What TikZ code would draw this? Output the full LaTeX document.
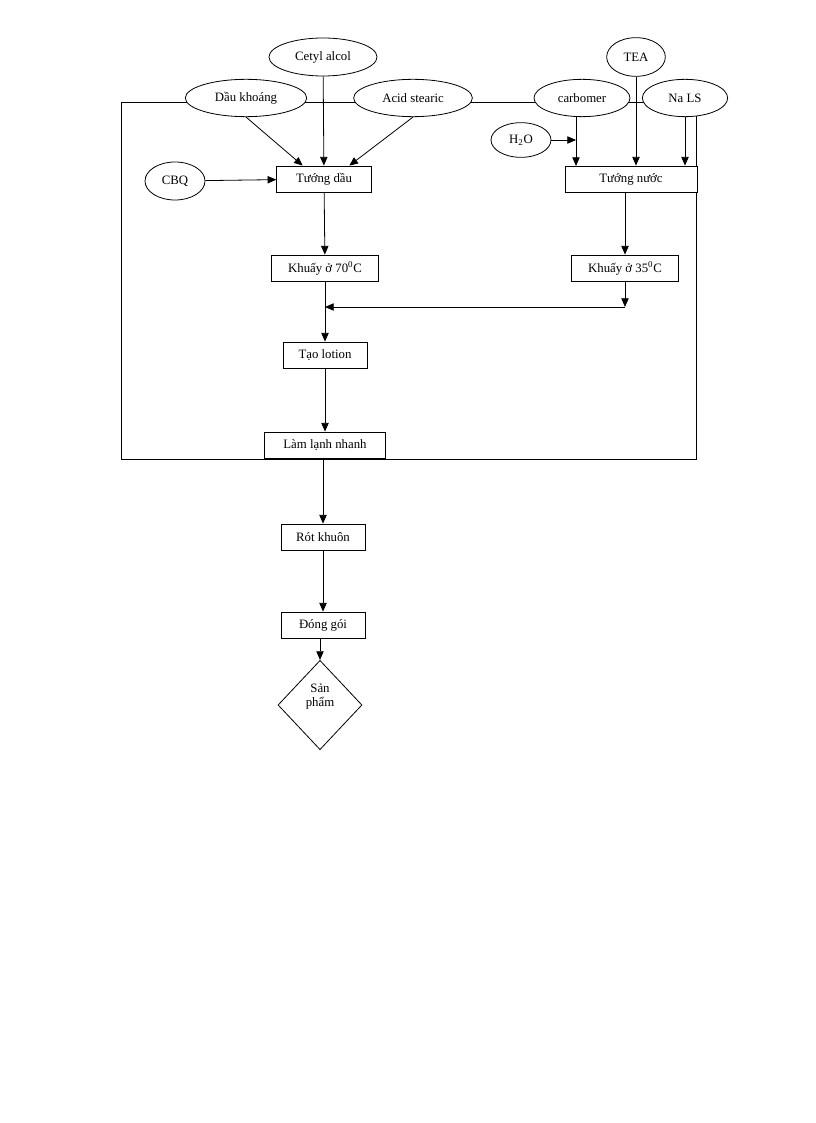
\documentclass[tikz,border=0pt]{standalone}
\usepackage{fontspec}
\setmainfont{Liberation Serif}
\usetikzlibrary{arrows.meta, positioning, shapes, shapes.geometric}

\begin{document}
\begin{tikzpicture}[x=0.75pt, y=-0.75pt, line width=0.6pt,
  font=\fontsize{9.6}{10.5}\selectfont,
  oval/.style={draw, ellipse, fill=white, inner sep=0pt},
  box/.style={draw, rectangle, fill=white, inner sep=0pt, minimum height=19.5pt},
  arr/.style={-{Triangle[length=6.5pt,width=5.5pt]}}]
  \useasboundingbox (0,0) rectangle (816,1123);

  % Outer frame
  \draw (121,102) rectangle (696,459);

  % Oil phase
  \node[oval, minimum width=81pt, minimum height=28.5pt] (cetyl) at (323,57) {Cetyl alcol};
  \node[oval, minimum width=91pt, minimum height=28pt] (daukhoang) at (246,98) {Dầu khoáng};
  \node[oval, minimum width=89pt, minimum height=28pt] (acid) at (413,98) {Acid stearic};
  \node[oval, minimum width=45pt, minimum height=28.5pt] (cbq) at (175,181) {CBQ};
  \node[box, minimum width=71pt] (tuongdau) at (324,179) {Tướng dầu};

  \draw[arr] (daukhoang.south) -- ([xshift=-16pt]tuongdau.north);
  \draw[arr] (cetyl) -- (tuongdau);
  \draw[arr] (acid.south) -- ([xshift=19pt]tuongdau.north);
  \draw[arr] (cbq) -- (tuongdau);

  % Water phase
  \node[oval, minimum width=44pt, minimum height=29pt] (tea) at (636,57) {TEA};
  \node[oval, minimum width=72pt, minimum height=28pt] (carbomer) at (582,98) {carbomer};
  \node[oval, minimum width=64pt, minimum height=28pt] (nals) at (685,98) {Na LS};
  \node[oval, minimum width=45pt, minimum height=26pt] (h2o) at (521,140) {H\textsubscript{2}O};
  \node[box, minimum width=99pt] (tuongnuoc) at (631,179) {Tướng nước};
  \coordinate (cin) at (576,166);

  \draw[arr] (carbomer.south -| cin) -- (cin);
  \draw[arr] (h2o) -- (h2o -| cin);
  \draw[arr] (tea) -- (tea |- tuongnuoc.north);
  \draw[arr] (nals) -- (nals |- tuongnuoc.north);

  % Mixing
  \node[box, minimum width=80pt] (khuay70) at (325,268) {Khuấy ở 70\textsuperscript{0}C};
  \node[box, minimum width=80pt] (khuay35) at (625,268) {Khuấy ở 35\textsuperscript{0}C};
  \node[box, minimum width=63pt] (taolotion) at (325,355) {Tạo lotion};
  \node[box, minimum width=91pt] (lamlanh) at (325,445) {Làm lạnh nhanh};
  \coordinate (m1) at (625,307);
  \coordinate (m2) at (325,307);

  \draw[arr] (tuongdau) -- (khuay70);
  \draw[arr] (tuongnuoc.south -| khuay35) -- (khuay35);
  \draw[arr] (khuay35) -- (m1);
  \draw[arr] (m1) -- (m2);
  \draw[arr] (khuay70) -- (taolotion);
  \draw[arr] (taolotion) -- (lamlanh);

  % Finishing
  \node[box, minimum width=63pt] (rotkhuon) at (323,537) {Rót khuôn};
  \node[box, minimum width=63pt] (donggoi) at (323,625) {Đóng gói};
  \node[draw, diamond, aspect=0.93, minimum width=63pt, minimum height=67pt, inner sep=0pt,
    align=center] (sanpham) at (320,705) {Sản\\phẩm\\[4pt]};

  \draw[arr] (lamlanh.south -| rotkhuon) -- (rotkhuon);
  \draw[arr] (rotkhuon) -- (donggoi);
  \draw[arr] (donggoi.south -| sanpham) -- (sanpham);
\end{tikzpicture}
\end{document}
